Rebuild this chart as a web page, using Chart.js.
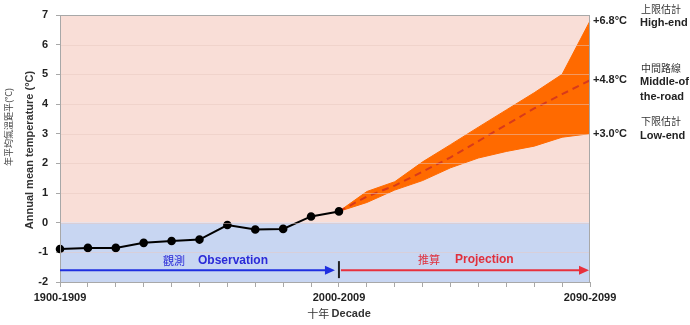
<!DOCTYPE html>
<html>
<head>
<meta charset="utf-8">
<script src="https://cdn.jsdelivr.net/npm/chart.js@4.4.1/dist/chart.umd.min.js"></script>
<style>
  html, body { margin: 0; padding: 0; background: #ffffff; }
  #wrap { width: 690px; height: 325px; position: relative; }
</style>
</head>
<body>
<div id="wrap"><canvas id="c" width="690" height="325"></canvas></div>
<script>
// Decades 1900-1909 ... 2090-2099
const decades = [
  '1900-1909','1910-1919','1920-1929','1930-1939','1940-1949',
  '1950-1959','1960-1969','1970-1979','1980-1989','1990-1999',
  '2000-2009','2010-2019','2020-2029','2030-2039','2040-2049',
  '2050-2059','2060-2069','2070-2079','2080-2089','2090-2099'
];
const shownTicks = ['1900-1909', '2000-2009', '2090-2099'];

// Observed decadal mean temperature anomaly (°C)
const observed = [-0.89, -0.85, -0.85, -0.68, -0.62, -0.57, -0.08, -0.23, -0.21, 0.21, 0.38,
                  null, null, null, null, null, null, null, null, null];

// Projected anomaly range (°C)
const highEnd = [null, null, null, null, null, null, null, null, null, null,
                 0.38, 1.05, 1.38, 2.05, 2.63, 3.22, 3.80, 4.38, 5.00, 6.8];
const middle  = [null, null, null, null, null, null, null, null, null, null,
                 0.38, 0.88, 1.25, 1.72, 2.20, 2.75, 3.30, 3.85, 4.33, 4.8];
const lowEnd  = [null, null, null, null, null, null, null, null, null, null,
                 0.38, 0.68, 1.10, 1.42, 1.85, 2.18, 2.40, 2.58, 2.88, 3.0];

const yTicks = [-2, -1, 0, 1, 2, 3, 4, 5, 6, 7];

const FONT = '"Liberation Sans", Arial, sans-serif';
const CJK = '"Noto Sans CJK TC", "Noto Sans CJK SC", sans-serif';

const fmt = v => '+' + v.toFixed(1) + '°C';

// Plot background (warm above zero, cool below), grid and frame
const backdrop = {
  id: 'backdrop',
  beforeDraw(chart) {
    const { ctx, chartArea: a, scales: { y } } = chart;
    const y0 = y.getPixelForValue(0);
    ctx.save();
    ctx.fillStyle = '#F9DED7';
    ctx.fillRect(a.left, a.top, a.right - a.left, y0 - a.top);
    ctx.fillStyle = '#C8D6F2';
    ctx.fillRect(a.left, y0, a.right - a.left, a.bottom - y0);
    ctx.restore();
  },
  afterDatasetsDraw(chart) {
    const { ctx, chartArea: a, scales: { y } } = chart;
    ctx.save();
    ctx.lineWidth = 1;
    yTicks.forEach(v => {
      if (v === yTicks[0] || v === yTicks[yTicks.length - 1]) return;
      const py = Math.round(y.getPixelForValue(v)) + 0.5;
      ctx.strokeStyle = 'rgba(232,200,192,0.5)';
      ctx.beginPath();
      ctx.moveTo(a.left, py);
      ctx.lineTo(a.right, py);
      ctx.stroke();
    });
    ctx.strokeStyle = '#a8a8a8';
    ctx.strokeRect(a.left + 0.5, a.top + 0.5, a.right - a.left - 1, a.bottom - a.top);
    ctx.restore();
  }
};

function arrow(ctx, x1, x2, y, color) {
  ctx.strokeStyle = color;
  ctx.fillStyle = color;
  ctx.lineWidth = 2;
  ctx.beginPath();
  ctx.moveTo(x1, y);
  ctx.lineTo(x2 - 8, y);
  ctx.stroke();
  ctx.beginPath();
  ctx.moveTo(x2, y);
  ctx.lineTo(x2 - 10, y - 4.5);
  ctx.lineTo(x2 - 10, y + 4.5);
  ctx.closePath();
  ctx.fill();
}

// Period arrows, end labels and axis titles
const notes = {
  id: 'notes',
  afterDraw(chart) {
    const { ctx, chartArea: a, scales: { x, y } } = chart;
    const xSplit = x.getPixelForValue(10);
    const yArrow = y.getPixelForValue(-1.6);
    ctx.save();

    // observation / projection arrows
    arrow(ctx, a.left, xSplit - 4, yArrow, '#1f2fe0');
    arrow(ctx, xSplit + 2, a.right - 1, yArrow, '#e8303c');
    ctx.strokeStyle = '#222';
    ctx.lineWidth = 2;
    ctx.beginPath();
    ctx.moveTo(xSplit, yArrow - 9);
    ctx.lineTo(xSplit, yArrow + 8);
    ctx.stroke();

    ctx.textBaseline = 'middle';
    ctx.textAlign = 'left';
    ctx.fillStyle = '#2a2ad8';
    ctx.font = '11px ' + CJK;
    ctx.fillText('觀測', 163, yArrow - 9);
    ctx.font = 'bold 12px ' + FONT;
    ctx.fillText('Observation', 198, yArrow - 9);
    ctx.fillStyle = '#e0303c';
    ctx.font = '11px ' + CJK;
    ctx.fillText('推算', 418, yArrow - 10);
    ctx.font = 'bold 12px ' + FONT;
    ctx.fillText('Projection', 455, yArrow - 10);

    // end-of-century values
    const n = decades.length - 1;
    const ends = [
      { v: highEnd[n], zh: '上限估計', en: ['High-end'] },
      { v: middle[n], zh: '中間路線', en: ['Middle-of', 'the-road'] },
      { v: lowEnd[n], zh: '下限估計', en: ['Low-end'] }
    ];
    ends.forEach(e => {
      const py = y.getPixelForValue(e.v);
      ctx.textAlign = 'left';
      ctx.fillStyle = '#222';
      ctx.font = 'bold 11px ' + FONT;
      ctx.fillText(fmt(e.v), a.right + 3, py);
      ctx.font = '10px ' + CJK;
      ctx.fillStyle = '#333';
      ctx.fillText(e.zh, 641, py - 12);
      ctx.fillStyle = '#222';
      ctx.font = 'bold 11px ' + FONT;
      e.en.forEach((t, i) => ctx.fillText(t, 640, py + 2 + i * 15));
    });

    // y-axis titles
    ctx.save();
    ctx.translate(9, 127);
    ctx.rotate(-Math.PI / 2);
    ctx.textAlign = 'center';
    ctx.fillStyle = '#444';
    ctx.font = '9px ' + CJK;
    ctx.fillText('年平均氣溫距平(°C)', 0, 0);
    ctx.restore();
    ctx.save();
    ctx.translate(30, 150);
    ctx.rotate(-Math.PI / 2);
    ctx.textAlign = 'center';
    ctx.fillStyle = '#333';
    ctx.font = 'bold 11px ' + FONT;
    ctx.fillText('Annual mean temperature (°C)', 0, 0);
    ctx.restore();

    // x-axis title
    ctx.textAlign = 'left';
    ctx.fillStyle = '#333';
    const zh = '十年 ';
    ctx.font = 'bold 11px ' + FONT;
    const enW = ctx.measureText('Decade').width;
    ctx.font = '11px ' + CJK;
    const zhW = ctx.measureText(zh).width;
    const x0 = xSplit - (zhW + enW) / 2;
    ctx.fillText(zh, x0, 314);
    ctx.font = 'bold 11px ' + FONT;
    ctx.fillText('Decade', x0 + zhW, 314);

    ctx.restore();
  }
};

new Chart(document.getElementById('c'), {
  type: 'line',
  data: {
    labels: decades,
    datasets: [
      {
        label: 'High-end',
        data: highEnd,
        borderColor: '#FF6A00',
        borderWidth: 1,
        backgroundColor: '#FF6A00',
        pointRadius: 0,
        fill: '+1',
        tension: 0,
        order: 3
      },
      {
        label: 'Low-end',
        data: lowEnd,
        borderColor: '#FF6A00',
        borderWidth: 1,
        pointRadius: 0,
        fill: false,
        tension: 0,
        order: 3
      },
      {
        label: 'Middle-of-the-road',
        data: middle,
        borderColor: '#D83A1A',
        borderWidth: 2,
        borderDash: [7, 5],
        pointRadius: 0,
        fill: false,
        tension: 0,
        order: 2
      },
      {
        label: 'Observation',
        data: observed,
        borderColor: '#000000',
        borderWidth: 2,
        pointRadius: 3.3,
        pointBackgroundColor: '#000000',
        pointBorderColor: '#000000',
        fill: false,
        tension: 0,
        order: 1
      }
    ]
  },
  options: {
    responsive: false,
    animation: false,
    events: [],
    layout: { padding: { top: 15, right: 100, left: 0, bottom: 0 } },
    plugins: {
      legend: { display: false },
      tooltip: { enabled: false }
    },
    scales: {
      x: {
        type: 'category',
        offset: false,
        afterFit: s => { s.height = 43; },
        border: { display: true, color: '#a8a8a8' },
        grid: { display: true, drawOnChartArea: false, drawTicks: true, tickLength: 5, color: '#a8a8a8' },
        ticks: {
          autoSkip: false,
          maxRotation: 0,
          padding: 4,
          color: '#222',
          font: { family: FONT, size: 11, weight: 'bold' },
          callback: function (v) {
            const lab = this.getLabelForValue(v);
            return shownTicks.includes(lab) ? lab : '';
          }
        }
      },
      y: {
        min: yTicks[0],
        max: yTicks[yTicks.length - 1],
        afterFit: s => { s.width = 60; },
        afterBuildTicks: s => { s.ticks = yTicks.map(v => ({ value: v })); },
        border: { display: true, color: '#a8a8a8' },
        grid: { drawOnChartArea: false, drawTicks: true, tickLength: 4, color: '#a8a8a8' },
        ticks: {
          padding: 8,
          color: '#222',
          font: { family: FONT, size: 11, weight: 'bold' }
        }
      }
    }
  },
  plugins: [backdrop, notes]
});
</script>
</body>
</html>
